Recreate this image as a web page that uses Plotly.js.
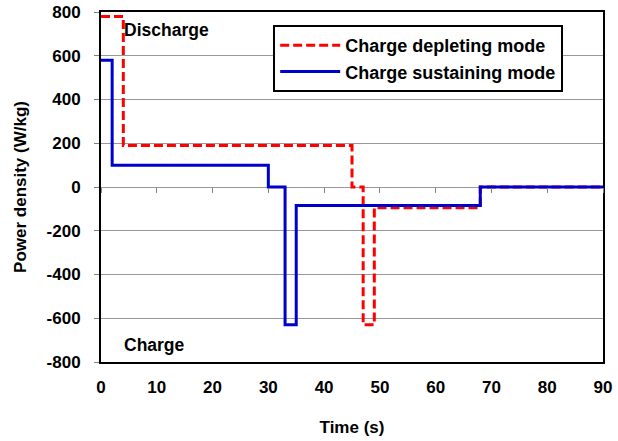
<!DOCTYPE html>
<html><head><meta charset="utf-8">
<script src="https://cdn.plot.ly/plotly-3.0.1.min.js"></script>
<style>html,body{margin:0;padding:0;background:#fff}#chart{width:618px;height:441px}</style>
</head><body><div id="chart"></div>
<script>
const depletingTime = [0, 4, 45, 47, 49, 68, 90];
const depletingPower = [780, 190, 0, -630, -95, 0, 0];
const sustainingTime = [0, 2, 30, 33, 35, 68, 90];
const sustainingPower = [580, 100, 0, -630, -85, 0, 0];
const seriesNames = ["Charge depleting mode", "Charge sustaining mode"];
const xTicks = [0, 10, 20, 30, 40, 50, 60, 70, 80, 90];
const yTicks = [-800, -600, -400, -200, 0, 200, 400, 600, 800];

const F = "Liberation Sans, Arial, sans-serif";
const traces = [
  {x: depletingTime, y: depletingPower, name: seriesNames[0], mode: "lines", legendgroup: "a",
   line: {shape: "hv", color: "#ff0000", width: 3, dash: "9px,4px"}},
  {x: sustainingTime, y: sustainingPower, name: seriesNames[1], mode: "lines", legendgroup: "b",
   line: {shape: "hv", color: "#0000cc", width: 3}},
  {x: [0, 90], y: [0, 0], xaxis: "x2", mode: "lines", showlegend: false, hoverinfo: "skip",
   line: {width: 0, color: "rgba(0,0,0,0)"}}
];
const layout = {
  width: 618, height: 441,
  margin: {l: 101, r: 15, t: 12, b: 79},
  paper_bgcolor: "#fff", plot_bgcolor: "#fff",
  font: {family: F, size: 17, color: "#000"},
  showlegend: true,
  legend: {x: 0.343, y: 0.963, xanchor: "left", yanchor: "top",
    bordercolor: "#000", borderwidth: 2, bgcolor: "#fff",
    font: {family: F, size: 18, color: "#000", weight: "bold"},
    traceorder: "grouped", tracegroupgap: 0, itemwidth: 60},
  xaxis: {range: [0, 90], tickvals: xTicks, ticktext: xTicks.map(v => "<b>" + v + "</b>"),
    showgrid: false, zeroline: false, showline: true, linecolor: "#000", linewidth: 2,
    mirror: true, ticks: "", ticklabelstandoff: 9,
    tickfont: {family: F, size: 17},
    title: {text: "<b>Time (s)</b>", font: {family: F, size: 17}, standoff: 25}},
  xaxis2: {range: [0, 90], tickvals: xTicks, overlaying: "x", anchor: "free", position: 0.5,
    side: "bottom", showticklabels: false, ticks: "outside", ticklen: 5, tickcolor: "#808080",
    tickwidth: 1, showgrid: false, zeroline: false, showline: false},
  yaxis: {range: [-800, 800], tickvals: yTicks, ticktext: yTicks.map(v => "<b>" + v + "</b>"),
    showgrid: true, gridcolor: "#999", gridwidth: 1, zeroline: false,
    showline: true, linecolor: "#000", linewidth: 2, mirror: true,
    ticks: "outside", ticklen: 5, tickcolor: "#808080", ticklabelstandoff: 10,
    tickfont: {family: F, size: 17},
    title: {text: "<b>Power density (W/kg)</b>", font: {family: F, size: 17}, standoff: 16}},
  annotations: [
    {x: 3.8, y: 717, xref: "x", yref: "y", xanchor: "left", yanchor: "middle", showarrow: false,
     text: "<b>Discharge</b>", font: {family: F, size: 17.5}},
    {x: 3.8, y: -720, xref: "x", yref: "y", xanchor: "left", yanchor: "middle", showarrow: false,
     text: "<b>Charge</b>", font: {family: F, size: 17.5}}
  ]
};
Plotly.newPlot("chart", traces, layout, {displayModeBar: false, staticPlot: true});
</script></body></html>
